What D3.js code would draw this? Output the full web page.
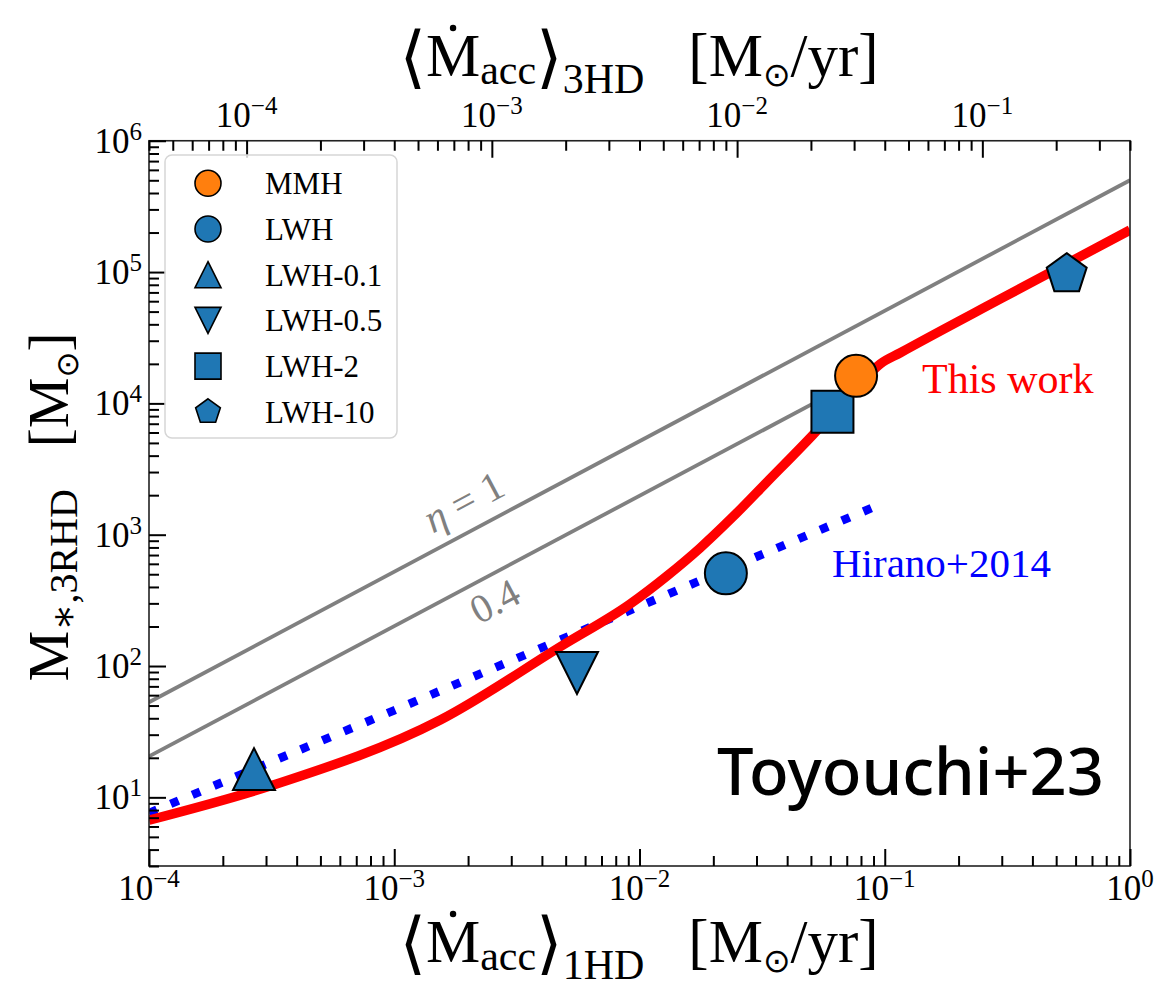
<!DOCTYPE html>
<html><head><meta charset="utf-8">
<script src="https://cdn.jsdelivr.net/npm/d3@7"></script>
<style>body{margin:0;background:#fff} svg{display:block}</style>
</head><body><svg id="c" width="1157" height="993"></svg>
<script>
// ---------------- data ----------------
const xTickValues = [1e-4, 1e-3, 1e-2, 1e-1, 1];
const xTickExps   = ["−4", "−3", "−2", "−1", "0"];
const topTickValues = [1e-4, 1e-3, 1e-2, 1e-1];
const topTickExps   = ["−4", "−3", "−2", "−1"];
const yTickValues = [1e1, 1e2, 1e3, 1e4, 1e5, 1e6];
const yTickExps   = ["1", "2", "3", "4", "5", "6"];
const topFactor = 0.4;   // <Mdot>_3HD = 0.4 * <Mdot>_1HD

// "This work" curve
const redX = [1e-4, 3.21e-4, 1.54e-3, 4.88e-3, 9.14e-3, 1.294e-2, 1.767e-2, 2.40e-2, 3.31e-2, 5.09e-2, 6.89e-2, 0.0807, 0.0958, 0.1153, 0.299, 1.0];
const redY = [6.7, 12.4, 38.8, 144.5, 296, 485, 793, 1365, 2520, 5750, 10600, 14550, 19950, 24200, 63000, 2.09e5];
// Hirano+2014
const hiranoX = [1e-4, 1e-3, 1e-2, 1e-1];
const hiranoY = [7.6, 46, 285, 1760];
// eta lines
const eta1X = [1e-4, 1.0];
const eta1Y = [53, 5.0e5];
const eta04X = [1e-4, 0.06];
const eta04Y = [20.5, 1.17e4];
// simulations
const simNames  = ["MMH", "LWH", "LWH-0.1", "LWH-0.5", "LWH-2", "LWH-10"];
const simX      = [0.0764, 0.0225, 2.68e-4, 5.56e-3, 0.0612, 0.552];
const simY      = [16200, 508, 16.4, 88.5, 8650, 96400];
const simShapes = ["circle", "circle", "triangle", "triangleDown", "square", "pentagon"];
const simColors = ["#ff7f0e", "#1f77b4", "#1f77b4", "#1f77b4", "#1f77b4", "#1f77b4"];
const drawOrder = [1, 2, 3, 4, 5, 0];

// ---------------- setup ----------------
const svg = d3.select("#c");
const L = 149, R = 1130, T = 140.75, B = 866;
const x = d3.scaleLog().domain([1e-4, 1]).range([L, R]);
const xTop = d3.scaleLog().domain([1e-4 * topFactor, 1 * topFactor]).range([L, R]);
const y = d3.scaleLog().domain([3, 1e6]).range([B, T]);
const SERIF = "'Liberation Serif','DejaVu Serif',serif";

svg.append("defs").append("clipPath").attr("id", "clip")
  .append("rect").attr("x", L).attr("y", T).attr("width", R - L).attr("height", B - T);

function shapePath(shape, r) {
  if (shape === "triangle") return `M0,${-r}L${r},${r}L${-r},${r}Z`;
  if (shape === "triangleDown") return `M0,${r}L${r},${-r}L${-r},${-r}Z`;
  if (shape === "square") return `M${-r},${-r}H${r}V${r}H${-r}Z`;
  if (shape === "pentagon") {
    const pts = d3.range(5).map(k => {
      const a = -Math.PI / 2 + k * 2 * Math.PI / 5;
      return [r * Math.cos(a), r * Math.sin(a)];
    });
    return "M" + pts.map(p => p.join(",")).join("L") + "Z";
  }
  return null;
}
function drawMarker(g, shape, cx, cy, r, fill, sw) {
  if (shape === "circle") {
    g.append("circle").attr("cx", cx).attr("cy", cy).attr("r", r)
      .attr("fill", fill).attr("stroke", "#000").attr("stroke-width", sw);
  } else {
    g.append("path").attr("d", shapePath(shape, r)).attr("transform", `translate(${cx},${cy})`)
      .attr("fill", fill).attr("stroke", "#000").attr("stroke-width", sw).attr("stroke-linejoin", "miter");
  }
}

const plot = svg.append("g").attr("clip-path", "url(#clip)");
const line = d3.line().x(d => x(d[0])).y(d => y(d[1]));

// eta lines
plot.append("path").datum(d3.zip(eta1X, eta1Y)).attr("d", line)
  .attr("fill", "none").attr("stroke", "#808080").attr("stroke-width", 3.8);
plot.append("path").datum(d3.zip(eta04X, eta04Y)).attr("d", line)
  .attr("fill", "none").attr("stroke", "#808080").attr("stroke-width", 3.8);
// Hirano
plot.append("path").datum(d3.zip(hiranoX, hiranoY)).attr("d", line)
  .attr("fill", "none").attr("stroke", "#0000ff").attr("stroke-width", 8.5)
  .attr("stroke-dasharray", "8.5 15");
// This work
plot.append("path").datum(d3.zip(redX, redY))
  .attr("d", d3.line().x(d => x(d[0])).y(d => y(d[1])).curve(d3.curveMonotoneX))
  .attr("fill", "none").attr("stroke", "#ff0000").attr("stroke-width", 9.5).attr("stroke-linecap", "butt");

// markers
const mk = svg.append("g");
drawOrder.forEach(i => drawMarker(mk, simShapes[i], x(simX[i]), y(simY[i]), 21, simColors[i], 2));

// ---------------- annotations ----------------
svg.append("text").attr("x", 922).attr("y", 393).attr("font-family", SERIF).attr("font-size", 42)
  .attr("fill", "#ff0000").text("This work");
svg.append("text").attr("x", 832).attr("y", 577).attr("font-family", SERIF).attr("font-size", 41)
  .attr("fill", "#0000ff").text("Hirano+2014");
const e1 = svg.append("text").attr("transform", "translate(470,514) rotate(-28)")
  .attr("text-anchor", "middle").attr("font-family", SERIF).attr("font-size", 41).attr("fill", "#808080");
e1.append("tspan").attr("font-style", "italic").text("η");
e1.append("tspan").text(" = 1");
svg.append("text").attr("transform", "translate(501,613) rotate(-28)")
  .attr("text-anchor", "middle").attr("font-family", SERIF).attr("font-size", 40).attr("fill", "#808080").text("0.4");
svg.append("text").attr("x", 717).attr("y", 795).attr("font-family", "'Noto Sans',sans-serif")
  .attr("font-size", 65).attr("font-weight", 500).attr("fill", "#000").text("Toyouchi+23");

// ---------------- frame & axes ----------------
svg.append("rect").attr("x", L).attr("y", T).attr("width", R - L).attr("height", B - T)
  .attr("fill", "none").attr("stroke", "#222").attr("stroke-width", 1.6);

function styleAxis(g) {
  g.select(".domain").remove();
  g.selectAll(".tick line").attr("stroke", "#000").attr("stroke-width", 2);
  g.selectAll(".tick text").remove();
}
const isMajor = v => Math.abs(Math.log10(v) - Math.round(Math.log10(v))) < 1e-6;
const xMinor = x.ticks().filter(v => !isMajor(v));
const yMinor = y.ticks().filter(v => !isMajor(v));
const topMinor = xTop.ticks().filter(v => !isMajor(v));

svg.append("g").attr("transform", `translate(0,${B})`)
  .call(d3.axisBottom(x).tickValues(xTickValues).tickSize(-17)).call(styleAxis);
svg.append("g").attr("transform", `translate(0,${B})`)
  .call(d3.axisBottom(x).tickValues(xMinor).tickSize(-10)).call(styleAxis);
svg.append("g").attr("transform", `translate(${L},0)`)
  .call(d3.axisLeft(y).tickValues(yTickValues).tickSize(-17)).call(styleAxis);
svg.append("g").attr("transform", `translate(${L},0)`)
  .call(d3.axisLeft(y).tickValues(yMinor).tickSize(-10)).call(styleAxis);
svg.append("g").attr("transform", `translate(0,${T})`)
  .call(d3.axisTop(xTop).tickValues(topTickValues).tickSize(-17)).call(styleAxis);
svg.append("g").attr("transform", `translate(0,${T})`)
  .call(d3.axisTop(xTop).tickValues(topMinor).tickSize(-10)).call(styleAxis);

function powLabel(px, py, exp, anchor) {
  const t = svg.append("text").attr("x", px).attr("y", py).attr("text-anchor", anchor)
    .attr("font-family", SERIF).attr("font-size", 35).attr("fill", "#000");
  t.append("tspan").text("10");
  t.append("tspan").attr("font-size", 25).attr("dy", -13).text(exp);
}
xTickValues.forEach((v, i) => powLabel(x(v), 900, xTickExps[i], "middle"));
topTickValues.forEach((v, i) => powLabel(xTop(v), 127, topTickExps[i], "middle"));
yTickValues.forEach((v, i) => powLabel(142, y(v) + 12, yTickExps[i], "end"));

// ---------------- axis titles ----------------
function accLabel(cx, cy, sub) {
  const t = svg.append("text").attr("x", cx).attr("y", cy).attr("text-anchor", "middle")
    .attr("font-family", SERIF).attr("font-size", 61).attr("fill", "#000");
  t.append("tspan").attr("font-family", "'DejaVu Serif',serif").attr("font-size", 68).attr("dy", 4).text("⟨");
  t.append("tspan").attr("dy", -4).text("M");
  t.append("tspan").attr("font-size", 42).attr("dy", 8).text("acc");
  t.append("tspan").attr("font-family", "'DejaVu Serif',serif").attr("font-size", 68).attr("dy", -4).text("⟩");
  t.append("tspan").attr("font-size", 42).attr("dy", 13).text(sub);
  t.append("tspan").attr("dy", -17).attr("dx", 44).text("[M");
  t.append("tspan").attr("font-family", "'DejaVu Sans',sans-serif").attr("font-size", 33).attr("dy", 10).text("⊙");
  t.append("tspan").attr("dy", -10).text("/yr]");
  const ext = t.node().getExtentOfChar(1);
  svg.append("circle").attr("cx", ext.x + ext.width / 2).attr("cy", cy - 48).attr("r", 3.2).attr("fill", "#000");
}
accLabel(639, 962, "1HD");
accLabel(639, 76, "3HD");

const yl = svg.append("text").attr("transform", "translate(68,507) rotate(-90)").attr("text-anchor", "middle")
  .attr("font-family", SERIF).attr("font-size", 57).attr("fill", "#000");
yl.append("tspan").text("M");
yl.append("tspan").attr("font-size", 40).attr("dy", 9).text("∗,3RHD");
yl.append("tspan").attr("dy", -9).attr("dx", 42).text("[M");
yl.append("tspan").attr("font-family", "'DejaVu Sans',sans-serif").attr("font-size", 31).attr("dy", 10).text("⊙");
yl.append("tspan").attr("dy", -10).text("]");

// ---------------- legend ----------------
const lg = svg.append("g");
lg.append("rect").attr("x", 165).attr("y", 155).attr("width", 232).attr("height", 283).attr("rx", 7)
  .attr("fill", "#fff").attr("fill-opacity", 0.8).attr("stroke", "#d6d6d6").attr("stroke-width", 1.5);
simNames.forEach((n, i) => {
  const ry = 183.3 + i * 45.7;
  drawMarker(lg, simShapes[i], 208, ry, 13, simColors[i], 1.6);
  lg.append("text").attr("x", 265).attr("y", ry + 11).attr("font-family", SERIF).attr("font-size", 31)
    .attr("fill", "#000").text(n);
});
</script></body></html>
